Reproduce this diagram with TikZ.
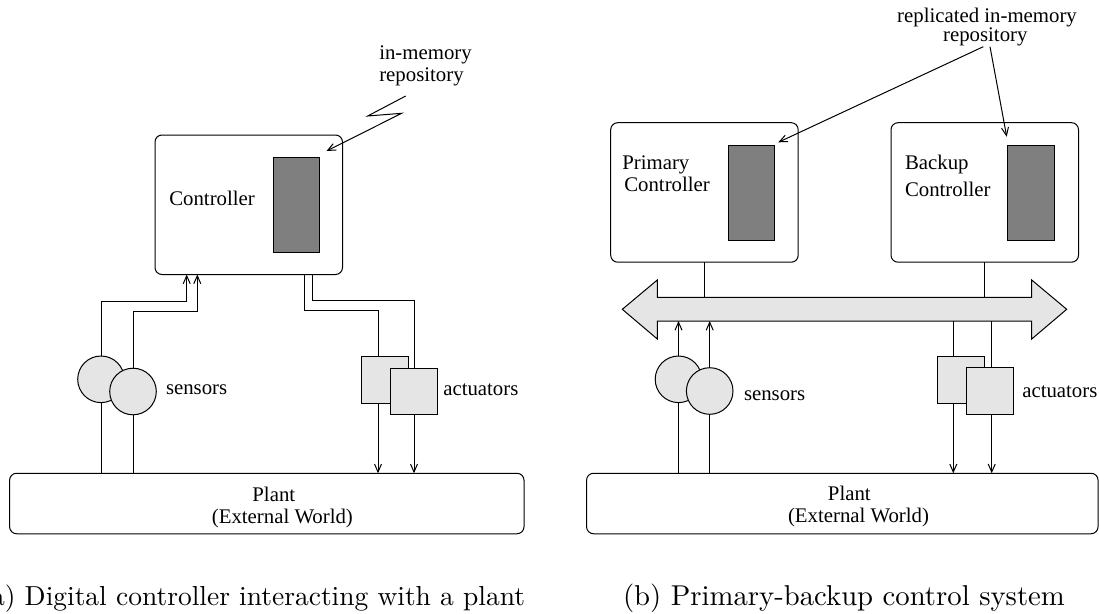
\documentclass[tikz,border=0pt]{standalone}
\usepackage{fontspec}
\setmainfont{Liberation Serif}
\newfontfamily\lblfont{Liberation Serif}
\newfontfamily\capfont{Latin Modern Roman}
\usetikzlibrary{arrows.meta}
\definecolor{fillgray}{HTML}{E5E5E5}
\definecolor{darkfill}{HTML}{7F7F7F}
\newcommand{\captext}[2]{\scalebox{#1}{\capfont\fontsize{10}{12}\selectfont #2}}
\begin{document}
\begin{tikzpicture}[x=1pt,y=-1pt,
  every node/.style={inner sep=0pt, outer sep=0pt},
  line/.style={line width=1pt},
  arr/.style={line width=1pt, -{Straight Barb[length=8pt,width=7pt]}},
  ctrlbox/.style={draw, line width=1pt, rounded corners=7pt, minimum width=187.5pt, minimum height=139.5pt, anchor=north west},
  memblk/.style={draw, line width=1pt, fill=darkfill, minimum width=46.5pt, minimum height=95pt, anchor=north west},
  sensor/.style={draw, circle, line width=1pt, fill=fillgray, minimum size=46.6pt},
  actbox/.style={draw, line width=1pt, fill=fillgray, minimum width=46.6pt, minimum height=46.6pt, anchor=north west},
  plantbox/.style={draw, line width=1pt, rounded corners=7pt, minimum height=60.5pt},
  lbl/.style={font=\lblfont\fontsize{20.8}{22}\selectfont, anchor=base west},
  captxt/.style={anchor=base}
]
\useasboundingbox (0,0) rectangle (1099,613);

% ---------- (a) ----------
\node[ctrlbox] (cL) at (155,135) {};
\node[memblk] (mL) at (273.3,157.7) {};
\node[lbl] (tCL) at (169.3,205.2) {Controller};
\node[lbl] (tML1) at (379.3,59.5) {in-memory};
\node[lbl] (tML2) at (379.3,81.5) {repository};
\node[sensor] (sL1) at (101,379.3) {};
\node[sensor] (sL2) at (133,391.5) {};
\node[lbl] (tSL) at (166,394) {sensors};
\node[actbox] (aL1) at (361.7,356.7) {};
\node[actbox] (aL2) at (390.7,368) {};
\node[lbl] (tAL) at (443.3,395.5) {actuators};
\node[plantbox, minimum width=514.4pt] (pL) at (266.8,503.5) {};
\node[lbl, anchor=base] (tPL1) at (273.8,501) {Plant};
\node[lbl, anchor=base] (tPL2) at (282.4,523) {(External World)};

\coordinate (zL0) at (405.7,96);
\draw[arr] (zL0) -- (367.7,116) -- (401.7,113.3) -- ([shift={(6.7,-6.7)}]mL.north east);
\draw[arr] (sL1.north) |- (186.7,301.7) -- (186.7,0 |- cL.south);
\draw[arr] (sL2.north) |- (197.3,311.7) -- (197.3,0 |- cL.south);
\draw[line] (sL1.south) -- (sL1.south |- pL.north);
\draw[line] (sL2.south) -- (sL2.south |- pL.north);
\coordinate (aL1t) at ([xshift=-7pt]aL1.north);
\coordinate (aL1b) at ([xshift=-7pt]aL1.south);
\draw[line] (304,0 |- cL.south) -- (304,310) -| (aL1t);
\draw[line] (312.3,0 |- cL.south) -- (312.3,300.7) -| (aL2.north);
\draw[arr] (aL1b) -- (aL1b |- pL.north);
\draw[arr] (aL2.south) -- (aL2.south |- pL.north);

% ---------- (b) ----------
\node[ctrlbox] (cP) at (610.7,122.7) {};
\node[memblk] (mP) at (728.3,145.7) {};
\node[ctrlbox] (cB) at (891,122.7) {};
\node[memblk] (mB) at (1007.7,145.7) {};
\node[lbl] (tP1) at (622.3,169.3) {Primary};
\node[lbl] (tP2) at (624.3,191.5) {Controller};
\node[lbl] (tB1) at (905,169.3) {Backup};
\node[lbl] (tB2) at (905,196) {Controller};
\node[lbl, anchor=base] (tR1) at (987,22.5) {replicated in-memory};
\node[lbl, anchor=base] (tR2) at (985.3,41) {repository};
\coordinate (rA) at (983.3,46.7);
\coordinate (rB) at (990,46.7);
\draw[arr] (rA) -- ([shift={(3.5,-3.4)}]mP.north east);
\draw[arr] (rB) -- ([shift={(-1,-9)}]mB.north west);

\path[draw, line width=1pt, fill=fillgray] (622.3,309.3) -- (657.3,280) -- (657.3,297.3) -- (1031.7,297.3) -- (1031.7,280) -- (1066.7,309.3) -- (1031.7,339) -- (1031.7,321) -- (657.3,321) -- (657.3,339) -- cycle;
\coordinate (busT) at (844.5,297.3);
\coordinate (busB) at (844.5,321);
\draw[line] (cP.south) -- (cP.south |- busT);
\draw[line] (cB.south) -- (cB.south |- busT);

\node[sensor] (sP1) at (678.5,379.3) {};
\node[sensor] (sP2) at (709.7,391) {};
\node[lbl] (tSR) at (744,400) {sensors};
\node[actbox] (aP1) at (937.7,356.7) {};
\node[actbox] (aP2) at (966.7,367.7) {};
\node[lbl] (tAR) at (1022.3,397) {actuators};
\node[plantbox, minimum width=511.5pt] (pR) at (842.3,503.5) {};
\node[lbl, anchor=base] (tPR1) at (849.3,500) {Plant};
\node[lbl, anchor=base] (tPR2) at (858.5,522.5) {(External World)};

\draw[arr] (sP1.north) -- (sP1.north |- busB);
\draw[arr] (sP2.north) -- (sP2.north |- busB);
\draw[line] (sP1.south) -- (sP1.south |- pR.north);
\draw[line] (sP2.south) -- (sP2.south |- pR.north);
\coordinate (aP1t) at ([xshift=-7.7pt]aP1.north);
\coordinate (aP1b) at ([xshift=-7.7pt]aP1.south);
\coordinate (aP2t) at ([xshift=1.7pt]aP2.north);
\coordinate (aP2b) at ([xshift=1.7pt]aP2.south);
\draw[line] (aP1t |- busB) -- (aP1t);
\draw[line] (aP2t |- busB) -- (aP2t);
\draw[arr] (aP1b) -- (aP1b |- pR.north);
\draw[arr] (aP2b) -- (aP2b |- pR.north);

% ---------- captions ----------
\node[captxt, anchor=base east] (capA) at (525,605) {\captext{2.75}{(a) Digital controller interacting with a plant}};
\node[captxt, anchor=base west] (capB) at (623,605) {\captext{2.87}{(b) Primary-backup control system}};
\end{tikzpicture}
\end{document}
